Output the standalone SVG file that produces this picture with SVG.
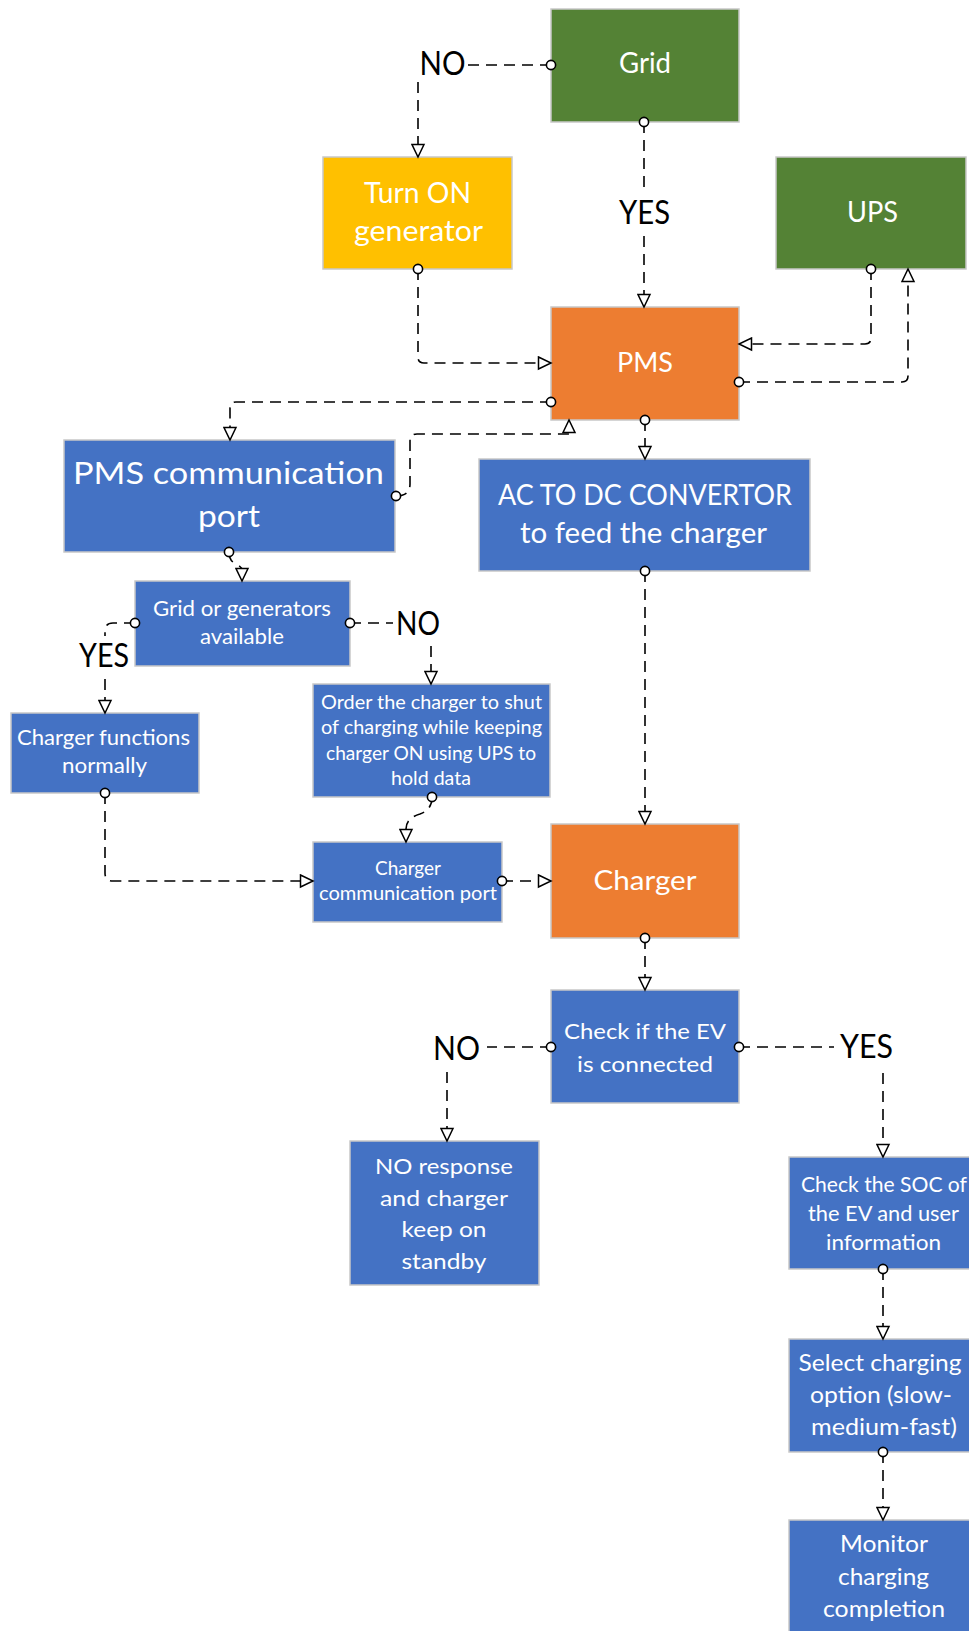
<svg xmlns="http://www.w3.org/2000/svg" width="969" height="1631" viewBox="0 0 969 1631">
<style>
.box{stroke:#C8C8C8;stroke-width:1.5}
.g{fill:#548235}.y{fill:#FFC000}.o{fill:#ED7D31}.b{fill:#4472C4}
.t{font-family:Lato,"Open Sans",sans-serif;fill:#FFFFFF;text-anchor:middle}
.lbl{font-family:Lato,"Open Sans",sans-serif;fill:#000000;text-anchor:middle;font-size:32px}
.c{fill:none;stroke:#000;stroke-width:1.6;stroke-dasharray:11 7}
.e{marker-end:url(#tri)}
.d{fill:#fff;stroke:#000;stroke-width:1.6}
</style>
<defs>
<marker id="tri" viewBox="-1 -1 16 15" refX="13" refY="6.5" markerWidth="16" markerHeight="15" markerUnits="userSpaceOnUse" orient="auto">
<path d="M0.5,0.5 L13,6.5 L0.5,12.5 Z" fill="#fff" stroke="#000" stroke-width="1.5" stroke-dasharray="none"/>
</marker>
</defs>

<g id="grid">
<rect class="box g" x="551" y="9" width="188" height="113"/>
<text class="t" x="645" y="73" font-size="28" textLength="52" lengthAdjust="spacingAndGlyphs">Grid</text>
</g>
<g id="turn-on-generator">
<rect class="box y" x="323" y="157" width="189" height="112"/>
<text class="t" x="417.5" y="203" font-size="28" textLength="107" lengthAdjust="spacingAndGlyphs">Turn ON</text>
<text class="t" x="418.5" y="241" font-size="28" textLength="129" lengthAdjust="spacingAndGlyphs">generator</text>
</g>
<g id="ups">
<rect class="box g" x="776" y="157" width="190" height="112"/>
<text class="t" x="872.5" y="222" font-size="28" textLength="51" lengthAdjust="spacingAndGlyphs">UPS</text>
</g>
<g id="pms">
<rect class="box o" x="551" y="307" width="188" height="113"/>
<text class="t" x="645" y="372" font-size="27" textLength="56" lengthAdjust="spacingAndGlyphs">PMS</text>
</g>
<g id="pms-comm-port">
<rect class="box b" x="64" y="440" width="331" height="112"/>
<text class="t" x="228.5" y="484" font-size="31" textLength="311" lengthAdjust="spacingAndGlyphs">PMS communication</text>
<text class="t" x="229" y="527" font-size="31" textLength="62" lengthAdjust="spacingAndGlyphs">port</text>
</g>
<g id="ac-dc">
<rect class="box b" x="479" y="459" width="331" height="112"/>
<text class="t" x="645" y="505" font-size="28" textLength="294" lengthAdjust="spacingAndGlyphs">AC TO DC CONVERTOR</text>
<text class="t" x="643.5" y="543" font-size="28" textLength="247" lengthAdjust="spacingAndGlyphs">to feed the charger</text>
</g>
<g id="grid-or-generators">
<rect class="box b" x="135" y="581" width="215" height="85"/>
<text class="t" x="242" y="616" font-size="21" textLength="178" lengthAdjust="spacingAndGlyphs">Grid or generators</text>
<text class="t" x="242" y="644" font-size="21" textLength="84" lengthAdjust="spacingAndGlyphs">available</text>
</g>
<g id="order-charger">
<rect class="box b" x="313" y="684" width="237" height="113"/>
<text class="t" x="431.5" y="709" font-size="18.5" textLength="221" lengthAdjust="spacingAndGlyphs">Order the charger to shut</text>
<text class="t" x="431.5" y="734" font-size="18.5" textLength="221" lengthAdjust="spacingAndGlyphs">of charging while keeping</text>
<text class="t" x="431" y="760" font-size="18.5" textLength="210" lengthAdjust="spacingAndGlyphs">charger ON using UPS to</text>
<text class="t" x="431" y="785" font-size="18.5" textLength="80" lengthAdjust="spacingAndGlyphs">hold data</text>
</g>
<g id="charger-functions">
<rect class="box b" x="11" y="713" width="188" height="80"/>
<text class="t" x="103.5" y="745" font-size="22" textLength="173" lengthAdjust="spacingAndGlyphs">Charger functions</text>
<text class="t" x="104.5" y="773" font-size="22" textLength="85" lengthAdjust="spacingAndGlyphs">normally</text>
</g>
<g id="charger-comm-port">
<rect class="box b" x="313" y="842" width="189" height="80"/>
<text class="t" x="408" y="875" font-size="19" textLength="66" lengthAdjust="spacingAndGlyphs">Charger</text>
<text class="t" x="408" y="900" font-size="19" textLength="178" lengthAdjust="spacingAndGlyphs">communication port</text>
</g>
<g id="charger">
<rect class="box o" x="551" y="824" width="188" height="114"/>
<text class="t" x="645" y="890" font-size="27" textLength="103" lengthAdjust="spacingAndGlyphs">Charger</text>
</g>
<g id="check-ev">
<rect class="box b" x="551" y="990" width="188" height="113"/>
<text class="t" x="645" y="1039" font-size="22" textLength="162" lengthAdjust="spacingAndGlyphs">Check if the EV</text>
<text class="t" x="645" y="1072" font-size="22" textLength="136" lengthAdjust="spacingAndGlyphs">is connected</text>
</g>
<g id="no-response">
<rect class="box b" x="350" y="1141" width="189" height="144"/>
<text class="t" x="444" y="1174" font-size="22" textLength="138" lengthAdjust="spacingAndGlyphs">NO response</text>
<text class="t" x="444" y="1206" font-size="22" textLength="128" lengthAdjust="spacingAndGlyphs">and charger</text>
<text class="t" x="444" y="1237" font-size="22" textLength="85" lengthAdjust="spacingAndGlyphs">keep on</text>
<text class="t" x="444" y="1269" font-size="22" textLength="85" lengthAdjust="spacingAndGlyphs">standby</text>
</g>
<g id="check-soc">
<rect class="box b" x="789" y="1157" width="190" height="112"/>
<text class="t" x="884" y="1192" font-size="21" textLength="166" lengthAdjust="spacingAndGlyphs">Check the SOC of</text>
<text class="t" x="883.5" y="1221" font-size="21" textLength="151" lengthAdjust="spacingAndGlyphs">the EV and user</text>
<text class="t" x="883.5" y="1250" font-size="21" textLength="115" lengthAdjust="spacingAndGlyphs">information</text>
</g>
<g id="select-option">
<rect class="box b" x="789" y="1339" width="190" height="113"/>
<text class="t" x="880" y="1371" font-size="22.5" textLength="163" lengthAdjust="spacingAndGlyphs">Select charging</text>
<text class="t" x="881" y="1403" font-size="22.5" textLength="142" lengthAdjust="spacingAndGlyphs">option (slow-</text>
<text class="t" x="884" y="1435" font-size="22.5" textLength="146" lengthAdjust="spacingAndGlyphs">medium-fast)</text>
</g>
<g id="monitor">
<rect class="box b" x="789" y="1520" width="190" height="120"/>
<text class="t" x="884" y="1552" font-size="22.5" textLength="88" lengthAdjust="spacingAndGlyphs">Monitor</text>
<text class="t" x="883.5" y="1585" font-size="22.5" textLength="91" lengthAdjust="spacingAndGlyphs">charging</text>
<text class="t" x="884" y="1617" font-size="22.5" textLength="122" lengthAdjust="spacingAndGlyphs">completion</text>
</g>

<g id="connectors">
<path class="c" d="M551,65 H468"/>
<path class="c e" d="M418,82 V157"/>
<path class="c" d="M644,122 V190"/>
<path class="c e" d="M644,236 V307"/>
<path class="c e" d="M418,269 V357 Q418,363 424,363 H551"/>
<path class="c e" d="M871,269 V338 Q871,344 865,344 H739"/>
<path class="c e" d="M739,382 H902 Q908,382 908,376 V269"/>
<path class="c e" d="M551,402 H236 Q230,402 230,408 V440"/>
<path class="c e" d="M396,496 Q410,496 410,484 V441 Q410,434 417,434 H569 V420"/>
<path class="c e" d="M645,420 V459"/>
<path class="c e" d="M645,571 V824"/>
<path class="c e" d="M229,552 Q229,561 236,564 Q242,567 242,570 V581"/>
<path class="c" d="M135,623 H113 Q105,623 105,631 V636"/>
<path class="c e" d="M105,679 V713"/>
<path class="c" d="M350,623 H393"/>
<path class="c e" d="M431,646 V684"/>
<path class="c e" d="M432,797 Q432,810 420,814 Q406,818 406,829 V842"/>
<path class="c e" d="M105,793 V873 Q105,881 113,881 H313"/>
<path class="c e" d="M502,881 H551"/>
<path class="c e" d="M645,938 V990"/>
<path class="c" d="M551,1047 H487"/>
<path class="c e" d="M447,1072 V1141"/>
<path class="c" d="M739,1047 H834"/>
<path class="c e" d="M883,1073 V1157"/>
<path class="c e" d="M883,1269 V1339"/>
<path class="c e" d="M883,1452 V1520"/>
<circle class="d" cx="551" cy="65" r="4.6"/>
<circle class="d" cx="644" cy="122" r="4.6"/>
<circle class="d" cx="418" cy="269" r="4.6"/>
<circle class="d" cx="871" cy="269" r="4.6"/>
<circle class="d" cx="739" cy="382" r="4.6"/>
<circle class="d" cx="551" cy="402" r="4.6"/>
<circle class="d" cx="396" cy="496" r="4.6"/>
<circle class="d" cx="645" cy="420" r="4.6"/>
<circle class="d" cx="645" cy="571" r="4.6"/>
<circle class="d" cx="229" cy="552" r="4.6"/>
<circle class="d" cx="135" cy="623" r="4.6"/>
<circle class="d" cx="350" cy="623" r="4.6"/>
<circle class="d" cx="432" cy="797" r="4.6"/>
<circle class="d" cx="105" cy="793" r="4.6"/>
<circle class="d" cx="502" cy="881" r="4.6"/>
<circle class="d" cx="645" cy="938" r="4.6"/>
<circle class="d" cx="551" cy="1047" r="4.6"/>
<circle class="d" cx="739" cy="1047" r="4.6"/>
<circle class="d" cx="883" cy="1269" r="4.6"/>
<circle class="d" cx="883" cy="1452" r="4.6"/>
</g>

<g id="labels">
<text class="lbl" x="442.5" y="75" textLength="46" lengthAdjust="spacingAndGlyphs">NO</text>
<text class="lbl" x="644.5" y="224" textLength="51" lengthAdjust="spacingAndGlyphs">YES</text>
<text class="lbl" x="104" y="667" textLength="50" lengthAdjust="spacingAndGlyphs">YES</text>
<text class="lbl" x="418" y="635" textLength="44" lengthAdjust="spacingAndGlyphs">NO</text>
<text class="lbl" x="456.5" y="1060" textLength="47" lengthAdjust="spacingAndGlyphs">NO</text>
<text class="lbl" x="866.5" y="1058" textLength="53" lengthAdjust="spacingAndGlyphs">YES</text>
</g>
</svg>
